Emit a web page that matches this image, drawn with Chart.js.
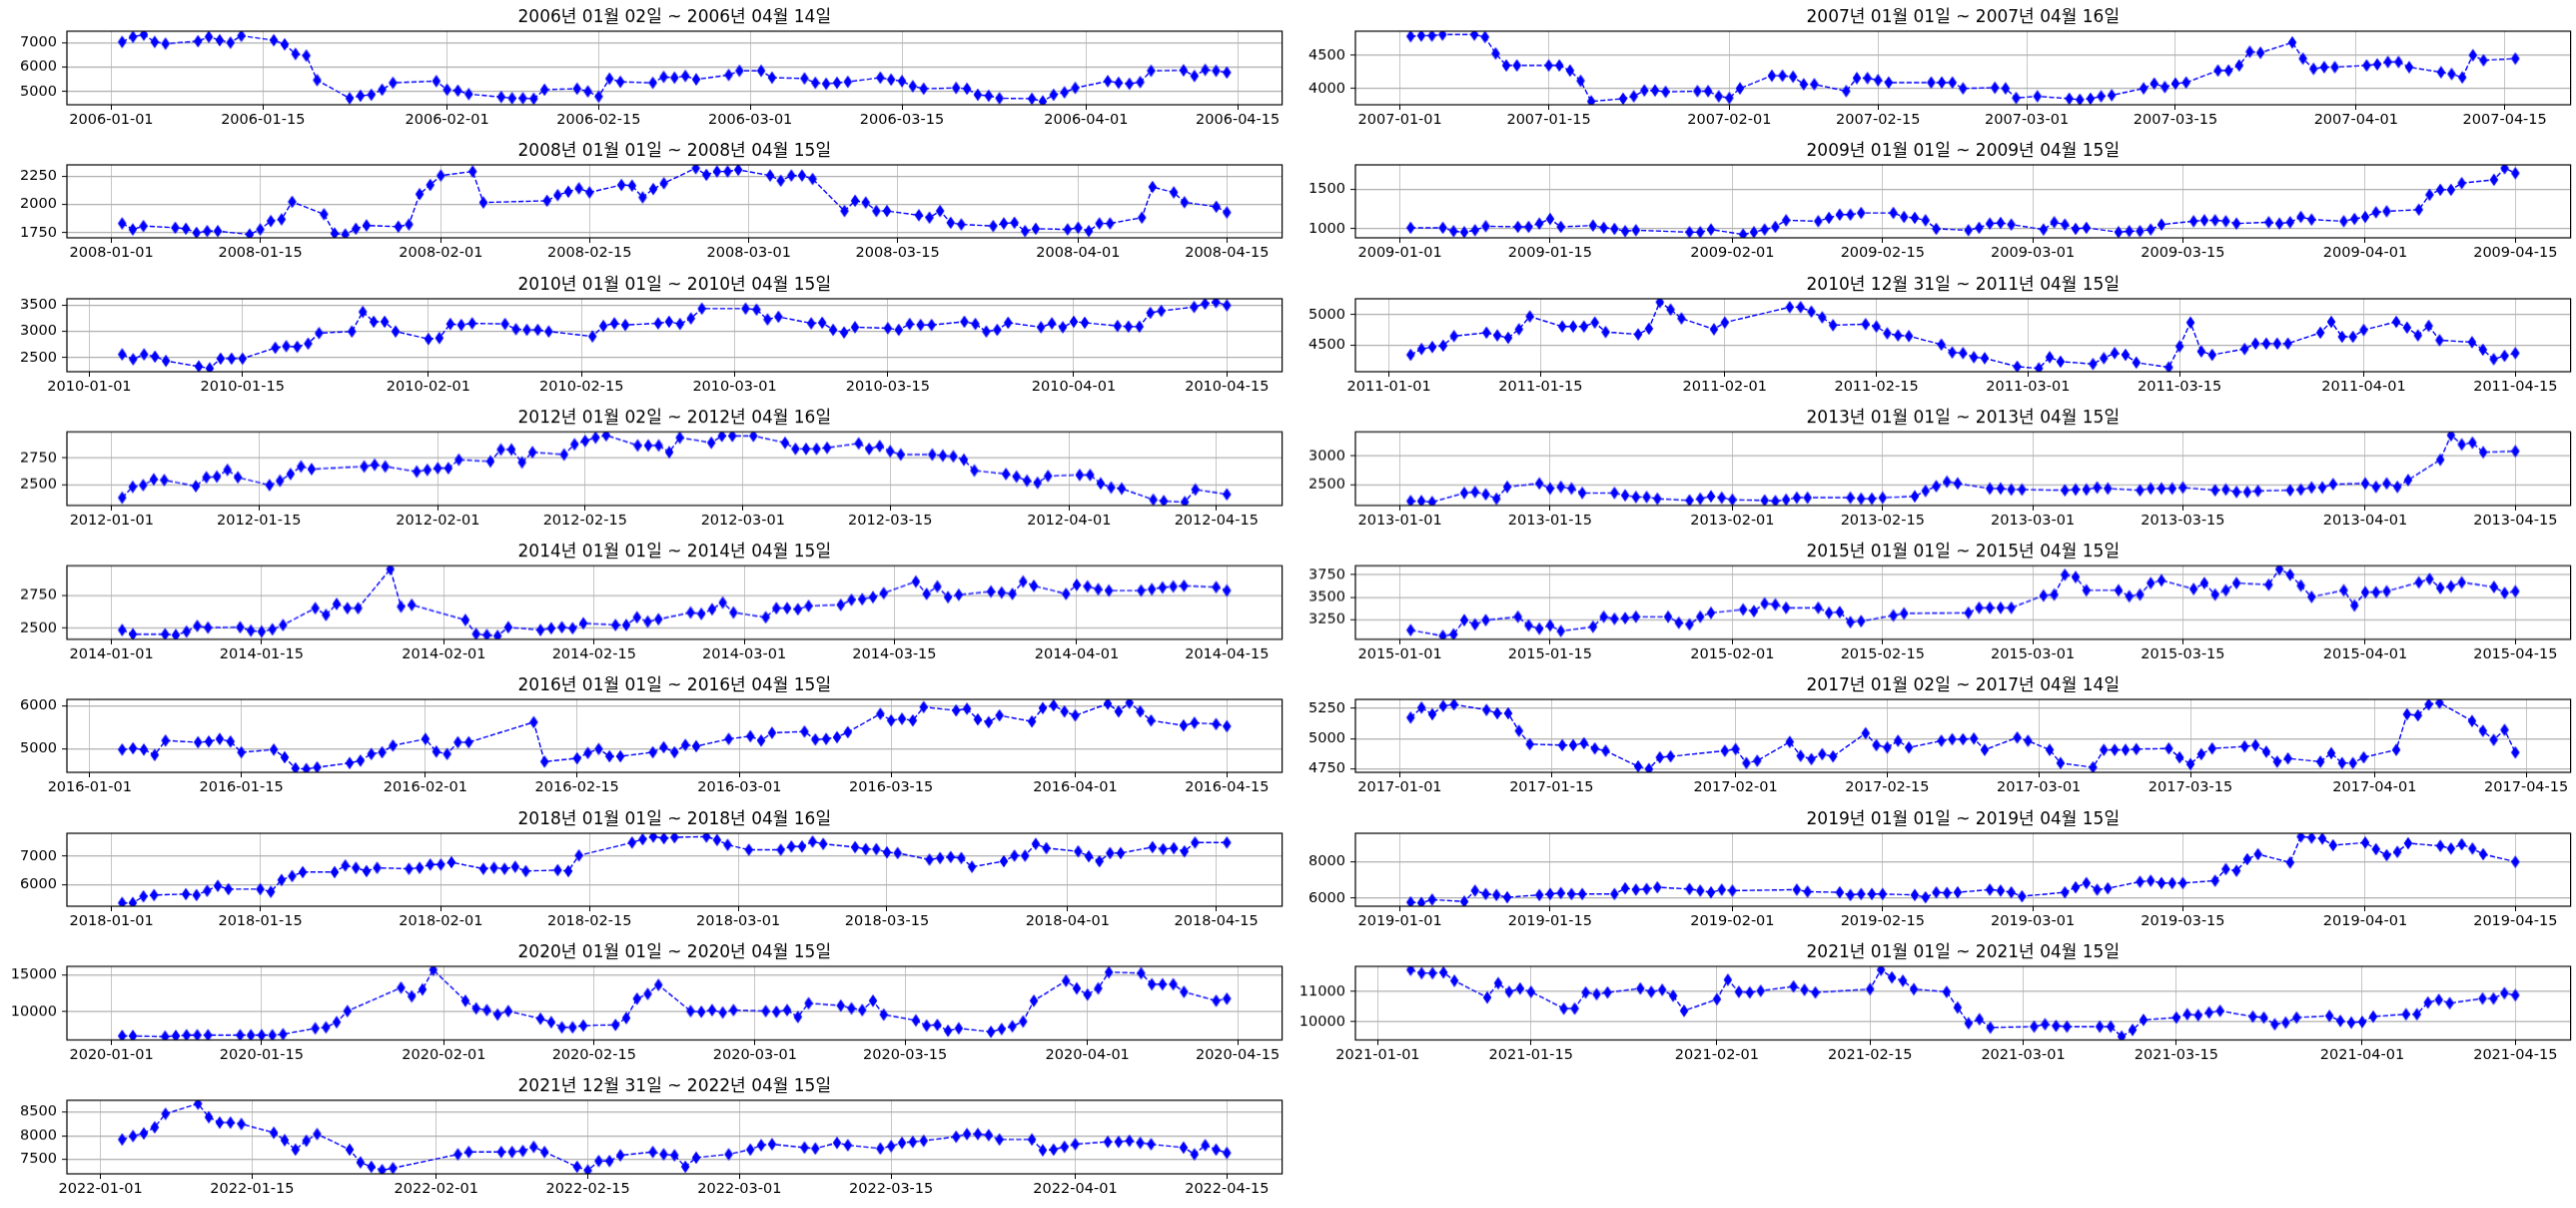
<!DOCTYPE html>
<html>
<head>
<meta charset="utf-8">
<script src="https://cdn.jsdelivr.net/npm/chart.js@4.4.1/dist/chart.umd.min.js"></script>
<style>
  body { margin: 0; background: #fff; width: 2579px; height: 1209px; overflow: hidden; position: relative; }
  .cell { position: absolute; }
</style>
</head>
<body>
<script>
// ---- data, one panel per year (row-major order) ----
const titles = [
  "2006년 01월 02일 ~ 2006년 04월 14일", "2007년 01월 01일 ~ 2007년 04월 16일",
  "2008년 01월 01일 ~ 2008년 04월 15일", "2009년 01월 01일 ~ 2009년 04월 15일",
  "2010년 01월 01일 ~ 2010년 04월 15일", "2010년 12월 31일 ~ 2011년 04월 15일",
  "2012년 01월 02일 ~ 2012년 04월 16일", "2013년 01월 01일 ~ 2013년 04월 15일",
  "2014년 01월 01일 ~ 2014년 04월 15일", "2015년 01월 01일 ~ 2015년 04월 15일",
  "2016년 01월 01일 ~ 2016년 04월 15일", "2017년 01월 02일 ~ 2017년 04월 14일",
  "2018년 01월 01일 ~ 2018년 04월 16일", "2019년 01월 01일 ~ 2019년 04월 15일",
  "2020년 01월 01일 ~ 2020년 04월 15일", "2021년 01월 01일 ~ 2021년 04월 15일",
  "2021년 12월 31일 ~ 2022년 04월 15일"
];

const periods = [
  ["2006-01-02", "2006-04-14"], ["2007-01-01", "2007-04-16"],
  ["2008-01-01", "2008-04-15"], ["2009-01-01", "2009-04-15"],
  ["2010-01-01", "2010-04-15"], ["2010-12-31", "2011-04-15"],
  ["2012-01-02", "2012-04-16"], ["2013-01-01", "2013-04-15"],
  ["2014-01-01", "2014-04-15"], ["2015-01-01", "2015-04-15"],
  ["2016-01-01", "2016-04-15"], ["2017-01-02", "2017-04-14"],
  ["2018-01-01", "2018-04-16"], ["2019-01-01", "2019-04-15"],
  ["2020-01-01", "2020-04-15"], ["2021-01-01", "2021-04-15"],
  ["2021-12-31", "2022-04-15"]
];

// market closed days (weekends are skipped too)
const closedDays = [
  ["2006-01-30", "2006-03-01"],
  ["2007-01-01", "2007-02-19", "2007-03-01"],
  ["2008-01-01", "2008-02-06", "2008-02-07", "2008-02-08", "2008-04-09"],
  ["2009-01-01", "2009-01-26", "2009-01-27"],
  ["2010-01-01", "2010-02-15", "2010-03-01"],
  ["2010-12-31", "2011-02-02", "2011-02-03", "2011-02-04", "2011-03-01"],
  ["2012-01-23", "2012-01-24", "2012-03-01", "2012-04-11"],
  ["2013-01-01", "2013-02-11", "2013-03-01"],
  ["2014-01-01", "2014-01-30", "2014-01-31"],
  ["2015-01-01", "2015-02-18", "2015-02-19", "2015-02-20"],
  ["2016-01-01", "2016-02-08", "2016-02-09", "2016-02-10", "2016-03-01", "2016-04-13"],
  ["2017-01-27", "2017-01-30", "2017-03-01"],
  ["2018-01-01", "2018-02-15", "2018-02-16", "2018-03-01"],
  ["2019-01-01", "2019-02-04", "2019-02-05", "2019-02-06", "2019-03-01"],
  ["2020-01-01", "2020-01-24", "2020-01-27", "2020-04-15"],
  ["2021-01-01", "2021-02-11", "2021-02-12", "2021-03-01"],
  ["2021-12-31", "2022-01-31", "2022-02-01", "2022-02-02", "2022-03-01", "2022-03-09"]
];

const v2006 = [7030, 7240, 7330, 7030, 6960, 7060, 7240, 7100, 7000, 7280, 7100, 6930, 6540, 6470, 5470,
  4730, 4830, 4870, 5080, 5360, 5430, 5080, 5040, 4900, 4780, 4730, 4730, 4710, 5080,
  5120, 5010, 4800, 5530, 5400, 5360, 5600, 5570, 5640, 5500, 5680, 5850, 5850, 5570,
  5540, 5360, 5320, 5360, 5400, 5570, 5490, 5430, 5220, 5120, 5150, 5120, 4870, 4830, 4730,
  4710, 4600, 4870, 4970, 5150, 5430, 5360, 5320, 5390, 5850, 5870, 5640, 5890, 5850, 5780];
const v2007 = [4792, 4802, 4802, 4818, 4818, 4781, 4531, 4349, 4349, 4349, 4349, 4271, 4115, 3802,
  3844, 3880, 3969, 3969, 3948, 3958, 3958, 3880, 3854, 4000, 4193, 4193, 4177, 4063, 4063,
  3958, 4156, 4156, 4125, 4089, 4089, 4089, 4089, 4000, 4010, 4000, 3854, 3880,
  3844, 3828, 3844, 3880, 3896, 4000, 4073, 4021, 4073, 4089, 4271, 4271, 4349, 4557, 4542,
  4698, 4453, 4297, 4323, 4323, 4349, 4365, 4401, 4401, 4323, 4245, 4219, 4167, 4505, 4427, 4453];
const v2008 = [1833, 1780, 1810, 1795, 1786, 1750, 1765, 1765, 1735, 1780, 1854, 1869, 2024,
  1914, 1744, 1735, 1786, 1815, 1804, 1824, 2092, 2173, 2256, 2292, 2018,
  2033, 2083, 2113, 2143, 2107, 2173, 2167, 2063, 2137, 2188, 2321, 2262, 2292, 2292, 2307,
  2256, 2211, 2256, 2256, 2226, 1943, 2033, 2018, 1943, 1943, 1905, 1884, 1943, 1839, 1824,
  1810, 1833, 1839, 1765, 1786, 1780, 1795, 1765, 1833, 1833, 1884, 2155, 2107, 2020, 1980, 1930];
const v2009 = [1013, 1013, 971, 958, 983, 1033, 1025, 1025, 1067, 1125, 1025, 1042, 1013, 1000, 971, 983,
  958, 958, 992, 929, 958, 992, 1025, 1108, 1096, 1138, 1179, 1179, 1200,
  1200, 1150, 1138, 1108, 1000, 983, 1013, 1067, 1075, 1054, 992, 1083, 1054, 1000, 1013,
  958, 971, 971, 992, 1054, 1096, 1108, 1108, 1096, 1067, 1083, 1067, 1083, 1150, 1117,
  1096, 1125, 1150, 1208, 1221, 1242, 1429, 1492, 1492, 1575, 1617, 1763, 1700];
const v2010 = [2559, 2466, 2559, 2516, 2435, 2329, 2292, 2478, 2478, 2478, 2683, 2714, 2702, 2764, 2963,
  2994, 3366, 3180, 3180, 2994, 2851, 2870, 3137, 3118, 3149, 3137, 3037, 3025, 3025, 2994,
  2900, 3099, 3149, 3118, 3149, 3180, 3137, 3242, 3429, 3429, 3410, 3224, 3273,
  3149, 3161, 3025, 2975, 3075, 3056, 3025, 3137, 3118, 3118, 3180, 3137, 2994, 3025, 3161,
  3075, 3149, 3075, 3180, 3161, 3099, 3087, 3087, 3348, 3385, 3460, 3522, 3553, 3491];
const v2011 = [4344, 4439, 4472, 4494, 4650, 4706, 4661, 4622, 4761, 4972, 4806, 4806, 4806, 4872, 4717,
  4678, 4772, 5206, 5084, 4939, 4761, 4872, 5123, 5123, 5050, 4956, 4828,
  4845, 4806, 4695, 4661, 4650, 4511, 4383, 4372, 4305, 4289, 4150, 4122, 4305, 4233,
  4194, 4289, 4372, 4344, 4217, 4139, 4483, 4872, 4400, 4344, 4439, 4528, 4528, 4528, 4528,
  4706, 4883, 4639, 4639, 4750, 4883, 4789, 4661, 4817, 4583, 4550, 4428, 4272, 4328, 4372];
const v2012 = [2380, 2481, 2497, 2551, 2544, 2487, 2570, 2576, 2639, 2570, 2497, 2538, 2601, 2671, 2646,
  2671, 2687, 2671, 2623, 2639, 2655, 2655, 2734, 2718, 2829, 2829, 2709, 2804,
  2782, 2877, 2909, 2940, 2962, 2867, 2867, 2867, 2804, 2940, 2892, 2956, 2956, 2956,
  2892, 2835, 2835, 2835, 2845, 2886, 2835, 2861, 2813, 2782, 2782, 2772, 2766, 2734, 2633,
  2601, 2576, 2538, 2519, 2582, 2592, 2592, 2513, 2475, 2465, 2361, 2348, 2339, 2456, 2411];
const v2013 = [2208, 2208, 2191, 2351, 2369, 2327, 2250, 2458, 2518, 2429, 2458, 2429, 2351,
  2351, 2310, 2280, 2280, 2250, 2220, 2250, 2292, 2268, 2232, 2220, 2208, 2232, 2268, 2268,
  2268, 2250, 2250, 2268, 2292, 2387, 2470, 2548, 2518, 2429, 2429, 2411, 2411,
  2399, 2411, 2411, 2446, 2429, 2399, 2429, 2429, 2429, 2446, 2399, 2411, 2369, 2369, 2387,
  2399, 2411, 2446, 2446, 2506, 2518, 2458, 2518, 2458, 2577, 2934, 3363, 3202, 3232, 3065, 3083];
const v2014 = [2487, 2455, 2455, 2449, 2475, 2518, 2505, 2508, 2482, 2475, 2492, 2525,
  2652, 2601, 2684, 2652, 2652, 2947, 2664, 2677, 2563, 2457, 2449, 2442, 2508,
  2487, 2500, 2508, 2500, 2538, 2525, 2525, 2583, 2550, 2568, 2619, 2609, 2644, 2694, 2619,
  2583, 2652, 2652, 2644, 2669, 2677, 2715, 2720, 2735, 2765, 2853, 2760, 2816, 2735, 2753,
  2778, 2770, 2760, 2853, 2821, 2760, 2828, 2816, 2795, 2785, 2785, 2795, 2808, 2816, 2821, 2811, 2785];
const v2015 = [3133, 3067, 3085, 3244, 3196, 3244, 3282, 3185, 3148, 3185, 3122, 3170, 3282, 3259, 3267, 3282,
  3282, 3215, 3196, 3282, 3326, 3363, 3345, 3430, 3419, 3382, 3382, 3326, 3334, 3222, 3233,
  3296, 3319, 3326, 3382, 3382, 3382, 3382, 3519, 3530, 3752, 3726, 3578,
  3578, 3511, 3530, 3659, 3689, 3593, 3659, 3530, 3578, 3659, 3641, 3815, 3752, 3630, 3504,
  3578, 3408, 3556, 3556, 3567, 3667, 3704, 3604, 3622, 3667, 3615, 3548, 3567];
const v2016 = [4984, 5016, 4984, 4859, 5195, 5156, 5172, 5234, 5172, 4922, 4984, 4805, 4547, 4531, 4570,
  4672, 4727, 4883, 4922, 5078, 5234, 4938, 4883, 5156, 5156, 5625, 4703,
  4781, 4906, 5000, 4828, 4828, 4922, 5039, 4922, 5094, 5063, 5234, 5297, 5195, 5375,
  5406, 5219, 5234, 5273, 5391, 5820, 5664, 5703, 5664, 5977, 5898, 5938, 5688, 5625, 5781,
  5641, 5953, 6016, 5875, 5781, 6055, 5875, 6078, 5875, 5664, 5547, 5609, 5580, 5530];
const v2017 = [5174, 5257, 5202, 5271, 5284, 5238, 5210, 5210, 5064, 4953, 4945, 4945, 4961, 4917, 4898,
  4768, 4746, 4843, 4851, 4898, 4912, 4796, 4815, 4972, 4856, 4829, 4870, 4851,
  5044, 4945, 4925, 4981, 4925, 4981, 4994, 4994, 5000, 4906, 5008, 4981, 4906, 4796,
  4760, 4906, 4906, 4906, 4912, 4917, 4843, 4787, 4870, 4917, 4934, 4945, 4890, 4807, 4834,
  4807, 4878, 4796, 4796, 4843, 4906, 5202, 5193, 5284, 5298, 5146, 5064, 4989, 5072, 4884];
const v2018 = [5368, 5368, 5598, 5644, 5678, 5644, 5793, 5966, 5851, 5851, 5759, 6172, 6310, 6448,
  6448, 6678, 6597, 6483, 6597, 6563, 6597, 6712, 6712, 6793, 6563, 6597, 6563, 6632, 6483,
  6517, 6483, 7030, 7482, 7597, 7690, 7632, 7666, 7690, 7574, 7402, 7229,
  7229, 7344, 7344, 7517, 7436, 7321, 7252, 7252, 7137, 7114, 6885, 6942, 6977, 6942, 6632,
  6827, 7023, 7023, 7436, 7287, 7172, 7000, 6827, 7114, 7114, 7321, 7252, 7287, 7172, 7482, 7482];
const v2019 = [5784, 5748, 5928, 5820, 6414, 6234, 6180, 6054, 6180, 6234, 6288, 6234, 6234,
  6234, 6541, 6469, 6505, 6595, 6505, 6414, 6324, 6469, 6414, 6469, 6360,
  6324, 6180, 6234, 6234, 6234, 6180, 6054, 6324, 6288, 6324, 6469, 6414, 6324, 6108,
  6324, 6595, 6829, 6469, 6541, 6901, 6955, 6829, 6829, 6829, 6955, 7586, 7496, 8126, 8397,
  7946, 9352, 9298, 9244, 8883, 9027, 8667, 8343, 8523, 8991, 8847, 8703, 8937, 8703, 8397, 7982];
const v2020 = [6759, 6759, 6666, 6759, 6852, 6852, 6852, 6852, 6852, 6852, 6852, 6991,
  7778, 7917, 8611, 10093, 13241, 12084, 13009, 15649, 11482, 10463, 10231, 9630, 10093,
  9074, 8611, 7917, 7917, 8148, 8241, 9167, 11759, 12407, 13611, 10093, 10000, 10231, 9907, 10231,
  10093, 10000, 10231, 9306, 11157, 10833, 10463, 10231, 11482, 9630, 8843, 8148, 8241, 7454, 7778,
  7315, 7685, 8056, 8704, 11482, 14167, 13148, 12315, 13148, 15324, 15185, 13704, 13704, 13704, 12685,
  11482, 11759];
const v2021 = [11722, 11611, 11611, 11633, 11356, 10800, 11278, 10989, 11100, 10989,
  10433, 10433, 10967, 10911, 10967, 11100, 10989, 11056, 10856, 10356, 10744, 11389, 10989, 10967, 11022,
  11167, 11056, 10967, 11078, 11722, 11467, 11356, 11078, 10989, 10467, 9944, 10078, 9800,
  9833, 9911, 9856, 9833, 9833, 9833, 9500, 9722, 10056, 10133, 10244, 10211, 10300, 10356,
  10167, 10133, 9911, 9967, 10133, 10189, 10022, 9967, 9989, 10167, 10244, 10244, 10633, 10722, 10611,
  10767, 10767, 10944, 10878];
const v2022 = [7921, 7993, 8050, 8179, 8464, 8679, 8393, 8279, 8279, 8250, 8064, 7907, 7707, 7893, 8036,
  7707, 7436, 7343, 7271, 7314, 7607, 7657, 7657, 7657, 7679, 7764, 7657,
  7343, 7264, 7464, 7464, 7586, 7657, 7607, 7586, 7343, 7536, 7607, 7707, 7800, 7821,
  7750, 7729, 7850, 7800, 7729, 7779, 7850, 7871, 7893, 7979, 8036, 8036, 8014, 7921,
  7921, 7693, 7707, 7764, 7821, 7871, 7871, 7893, 7850, 7821, 7750, 7607, 7800, 7707, 7636];

const seriesValues = [v2006, v2007, v2008, v2009, v2010, v2011, v2012, v2013, v2014,
  v2015, v2016, v2017, v2018, v2019, v2020, v2021, v2022];

const yTicks = [
  [5000, 6000, 7000], [4000, 4500], [1750, 2000, 2250], [1000, 1500],
  [2500, 3000, 3500], [4500, 5000], [2500, 2750], [2500, 3000],
  [2500, 2750], [3250, 3500, 3750], [5000, 6000], [4750, 5000, 5250],
  [6000, 7000], [6000, 8000], [10000, 15000], [10000, 11000], [7500, 8000, 8500]
];

const xTickMonthDays = ["01-01", "01-15", "02-01", "02-15", "03-01", "03-15", "04-01", "04-15"];

// ---- helpers ----
const DAY = 86400000;
function dayNum(s) { return Date.parse(s + "T00:00:00Z") / DAY; }
function dayStr(n) { return new Date(n * DAY).toISOString().slice(0, 10); }
function tradingDays(start, end, closed) {
  let out = [];
  for (let d = dayNum(start); d <= dayNum(end); d++) {
    let wd = new Date(d * DAY).getUTCDay();
    if (wd === 0 || wd === 6) continue;
    if (closed.includes(dayStr(d))) continue;
    out.push(d);
  }
  return out;
}

// thin diamond marker like matplotlib 'd'
const marker = document.createElement("canvas");
marker.width = 10;
marker.height = 14;
const mc = marker.getContext("2d");
mc.fillStyle = "#0000ff";
mc.beginPath();
mc.moveTo(5, 0.7);
mc.lineTo(9.3, 7);
mc.lineTo(5, 13.3);
mc.lineTo(0.7, 7);
mc.closePath();
mc.fill();

// black box around the axes
const frame = {
  id: "frame",
  afterDraw(chart) {
    let a = chart.chartArea, c = chart.ctx;
    c.save();
    c.strokeStyle = "#000";
    c.lineWidth = 1.2;
    c.strokeRect(a.left, a.top, a.right - a.left, a.bottom - a.top);
    c.restore();
  }
};

const tickFont = { family: "'DejaVu Sans', 'Noto Sans CJK KR'", size: 14.5 };
const titleFont = { family: "'DejaVu Sans', 'Noto Sans CJK KR'", size: 17, weight: "normal" };

const axisLeft = 67, axisWidth = 1218, axisHeight = 73.5, titleSpace = 31, tickSpace = 28;
const rowPitch = 133.75, colOffset = [0, 1290];

titles.forEach(function (title, i) {
  let row = Math.floor(i / 2), col = i % 2;
  let days = tradingDays(periods[i][0], periods[i][1], closedDays[i]);
  let vals = seriesValues[i];
  if (days.length !== vals.length) console.log("length mismatch", title, days.length, vals.length);
  let n = Math.min(days.length, vals.length);
  let points = [];
  for (let k = 0; k < n; k++) points.push({ x: days[k], y: vals[k] });

  let d0 = points[0].x, d1 = points[n - 1].x, ds = d1 - d0;
  let vmin = Math.min(...vals.slice(0, n)), vmax = Math.max(...vals.slice(0, n)), vr = vmax - vmin;
  let year = periods[i][1].slice(0, 4);
  let xt = xTickMonthDays.map(md => dayNum(year + "-" + md));
  let yt = yTicks[i];

  let W = axisLeft + axisWidth + 5;
  let H = titleSpace + axisHeight + tickSpace;
  let div = document.createElement("div");
  div.className = "cell";
  div.style.left = colOffset[col] + "px";
  div.style.top = (row * rowPitch) + "px";
  div.style.width = W + "px";
  div.style.height = H + "px";
  let canvas = document.createElement("canvas");
  canvas.width = W;
  canvas.height = H;
  canvas.style.width = W + "px";
  canvas.style.height = H + "px";
  div.appendChild(canvas);
  document.body.appendChild(div);

  new Chart(canvas.getContext("2d"), {
    type: "line",
    data: {
      datasets: [{
        data: points,
        borderColor: "#0000ff",
        backgroundColor: "#0000ff",
        borderWidth: 1.4,
        borderDash: [5.2, 2.2],
        tension: 0,
        fill: false,
        pointStyle: marker,
        pointRadius: 5,
        clip: 0
      }]
    },
    options: {
      responsive: false,
      animation: false,
      devicePixelRatio: 1,
      events: [],
      layout: { padding: { left: 0, right: 5, top: 0, bottom: 0 } },
      plugins: {
        legend: { display: false },
        tooltip: { enabled: false },
        title: {
          display: true,
          text: title,
          fullSize: false,
          color: "#000",
          font: titleFont,
          padding: { top: 7, bottom: 3.6 }
        }
      },
      scales: {
        x: {
          type: "linear",
          min: d0 - 0.05 * ds,
          max: d1 + 0.05 * ds,
          afterBuildTicks: s => { s.ticks = xt.map(v => ({ value: v })); },
          afterFit: s => { s.height = tickSpace; },
          border: { display: false },
          grid: { color: "#b8b8b8", lineWidth: 0.8, tickColor: "#000", tickLength: 5, tickWidth: 1 },
          ticks: {
            callback: v => dayStr(v),
            autoSkip: false, maxRotation: 0, minRotation: 0,
            padding: 2, color: "#000", font: tickFont
          }
        },
        y: {
          type: "linear",
          min: vmin - 0.05 * vr,
          max: vmax + 0.05 * vr,
          afterBuildTicks: s => { s.ticks = yt.map(v => ({ value: v })); },
          afterFit: s => { s.width = axisLeft; },
          border: { display: false },
          grid: { color: "#b0b0b0", lineWidth: 1.2, tickColor: "#000", tickLength: 5, tickWidth: 1 },
          ticks: { callback: v => String(v), padding: 5, color: "#000", font: tickFont }
        }
      }
    },
    plugins: [frame]
  });
});
</script>
</body>
</html>
